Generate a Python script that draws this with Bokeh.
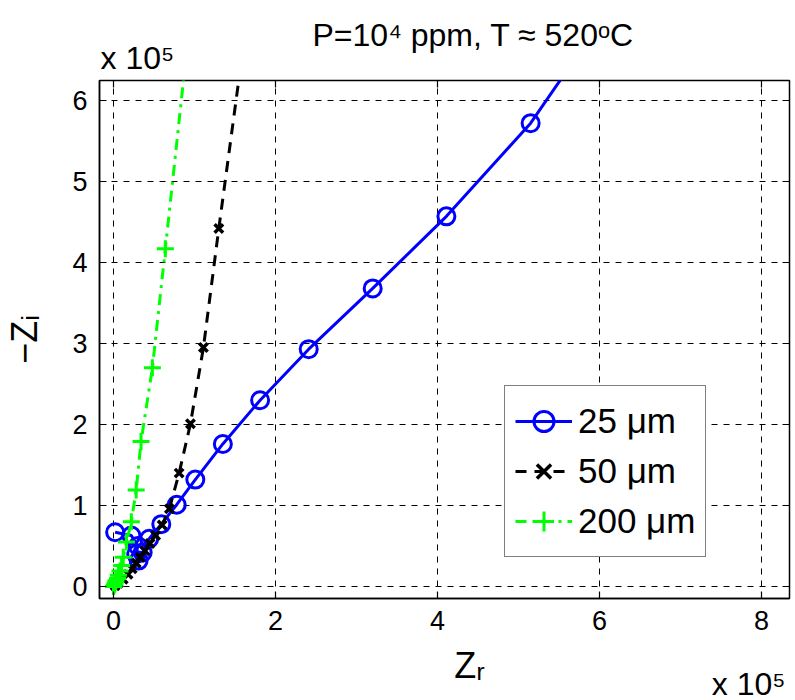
from bokeh.plotting import figure
from bokeh.models import Range1d, FixedTicker, Legend, LegendItem, Title
from bokeh.embed import file_html
from bokeh.resources import INLINE

# ---- data (values in units of 1e5 ohm) ----
zr_25 = [0.02, 0.22, 0.30, 0.28, 0.31, 0.36, 0.44, 0.59, 0.78, 1.01, 1.35, 1.81, 2.41, 3.20, 4.11, 5.15, 6.10]
zi_25 = [0.67, 0.63, 0.50, 0.40, 0.32, 0.42, 0.59, 0.77, 1.01, 1.32, 1.76, 2.30, 2.93, 3.68, 4.57, 5.72, 7.10]

zr_50 = [0.02, 0.06, 0.12, 0.18, 0.23, 0.28, 0.33, 0.39, 0.45, 0.52, 0.60, 0.69, 0.81, 0.95, 1.11, 1.30, 1.58]
zi_50 = [0.01, 0.04, 0.09, 0.15, 0.22, 0.29, 0.36, 0.44, 0.53, 0.63, 0.76, 0.96, 1.40, 2.01, 2.95, 4.42, 6.50]

zr_200 = [0.00, 0.01, 0.02, 0.03, 0.05, 0.06, 0.08, 0.10, 0.12, 0.16, 0.22, 0.28, 0.34, 0.48, 0.64, 0.88]
zi_200 = [0.00, 0.02, 0.04, 0.07, 0.10, 0.14, 0.19, 0.26, 0.36, 0.55, 0.80, 1.19, 1.79, 2.70, 4.17, 6.40]

x_ticks = [0, 2, 4, 6, 8]
y_ticks = [0, 1, 2, 3, 4, 5, 6]
legend_labels = ["25 μm", "50 μm", "200 μm"]
title_text = "P=10⁴ ppm, T ≈ 520ᵒC"
x_label = "Zᵣ"
y_label = "−Zᵢ"
exponent_text = "x 10⁵"

# ---- layout ----
FL, FT, FW, FH = 99, 80, 690, 518
X0, X1 = -0.173, 8.346
Y0, Y1 = -0.148, 6.247
FONT = "Liberation Sans"
TICK_PX = 7

p = figure(frame_width=FW, frame_height=FH,
           x_range=Range1d(X0, X1), y_range=Range1d(Y0, Y1),
           output_backend="svg", toolbar_location=None,
           min_border_left=FL, min_border_top=FT,
           min_border_right=795 - FL - FW, min_border_bottom=700 - FT - FH)
p.background_fill_color = "white"
p.border_fill_color = "white"
p.outline_line_color = "black"
p.outline_line_width = 1.5

for ax in (p.xaxis[0], p.yaxis[0]):
    ax.major_label_text_font = FONT
    ax.major_label_text_font_size = "27px"
    ax.major_label_text_color = "black"
    ax.axis_line_color = "black"
    ax.axis_line_width = 1.5
    ax.major_tick_in = TICK_PX
    ax.major_tick_out = 0
    ax.major_tick_line_width = 1.2
    ax.minor_tick_line_color = None
    ax.major_label_standoff = 12
    ax.axis_label_text_font = FONT
    ax.axis_label_text_font_size = "36px"
    ax.axis_label_text_font_style = "normal"
    ax.axis_label_text_color = "black"
p.xaxis[0].ticker = FixedTicker(ticks=x_ticks)
p.yaxis[0].ticker = FixedTicker(ticks=y_ticks)
# leading no-break spaces nudge the centred label to the right, as in the reference
p.xaxis[0].axis_label = "\u00a0" * 5 + x_label
p.yaxis[0].axis_label = y_label
p.xaxis[0].axis_label_standoff = 12
p.yaxis[0].axis_label_standoff = 24

# inward ticks on the top and right edges of the box
ddx = TICK_PX / FW * (X1 - X0)
ddy = TICK_PX / FH * (Y1 - Y0)
p.segment(x0=x_ticks, y0=[Y1] * len(x_ticks), x1=x_ticks, y1=[Y1 - ddy] * len(x_ticks),
          line_color="black", line_width=1.2)
p.segment(x0=[X1] * len(y_ticks), y0=y_ticks, x1=[X1 - ddx] * len(y_ticks), y1=y_ticks,
          line_color="black", line_width=1.2)

p.xgrid.ticker = FixedTicker(ticks=x_ticks)
p.ygrid.ticker = FixedTicker(ticks=y_ticks)
for g in (p.xgrid[0], p.ygrid[0]):
    g.grid_line_color = "black"
    g.grid_line_alpha = 1.0
    g.grid_line_width = 1
    g.grid_line_dash = "6 6"

# series
l1 = p.line(zr_25, zi_25, line_color="#0000ff", line_width=3)
m1 = p.scatter(zr_25, zi_25, marker="circle", size=17, fill_color=None,
               line_color="#0000ff", line_width=3)
l2 = p.line(zr_50, zi_50, line_color="black", line_width=3, line_dash="11 8")
m2 = p.scatter(zr_50, zi_50, marker="x", size=12, line_color="black", line_width=3.5)
l3 = p.line(zr_200, zi_200, line_color="#00ff00", line_width=3, line_dash="11 6 3 6")
m3 = p.scatter(zr_200, zi_200, marker="cross", size=17, line_color="#00ff00", line_width=3)

legend = Legend(items=[LegendItem(label=legend_labels[0], renderers=[l1, m1]),
                       LegendItem(label=legend_labels[1], renderers=[l2, m2]),
                       LegendItem(label=legend_labels[2], renderers=[l3, m3])],
                location=(504 - FL, FT + FH - 557))
legend.label_text_font = FONT
legend.label_text_font_size = "35px"
legend.label_text_color = "black"
legend.glyph_width = 57
legend.glyph_height = 50
legend.label_height = 50
legend.label_standoff = 6
legend.spacing = 0
legend.padding = 10
legend.margin = 0
legend.border_line_color = "black"
legend.border_line_width = 1.5
legend.background_fill_alpha = 1.0
p.add_layout(legend, "center")

# exponent near the top of the y axis (closest to the frame), then the title above it
p.title = None
p.add_layout(Title(text=exponent_text, align="left", offset=1, standoff=10,
                   text_font=FONT, text_font_size="32px", text_font_style="normal",
                   text_color="black"), "above")
p.add_layout(Title(text=title_text, align="left", offset=213, standoff=-41,
                   text_font=FONT, text_font_size="32px", text_font_style="normal",
                   text_color="black"), "above")
# exponent at the right end of the x axis
p.add_layout(Title(text=exponent_text, align="right", offset=4, standoff=-46,
                   vertical_align="top",
                   text_font=FONT, text_font_size="32px", text_font_style="normal",
                   text_color="black"), "below")

open("out.html", "w").write(file_html(p, INLINE))
